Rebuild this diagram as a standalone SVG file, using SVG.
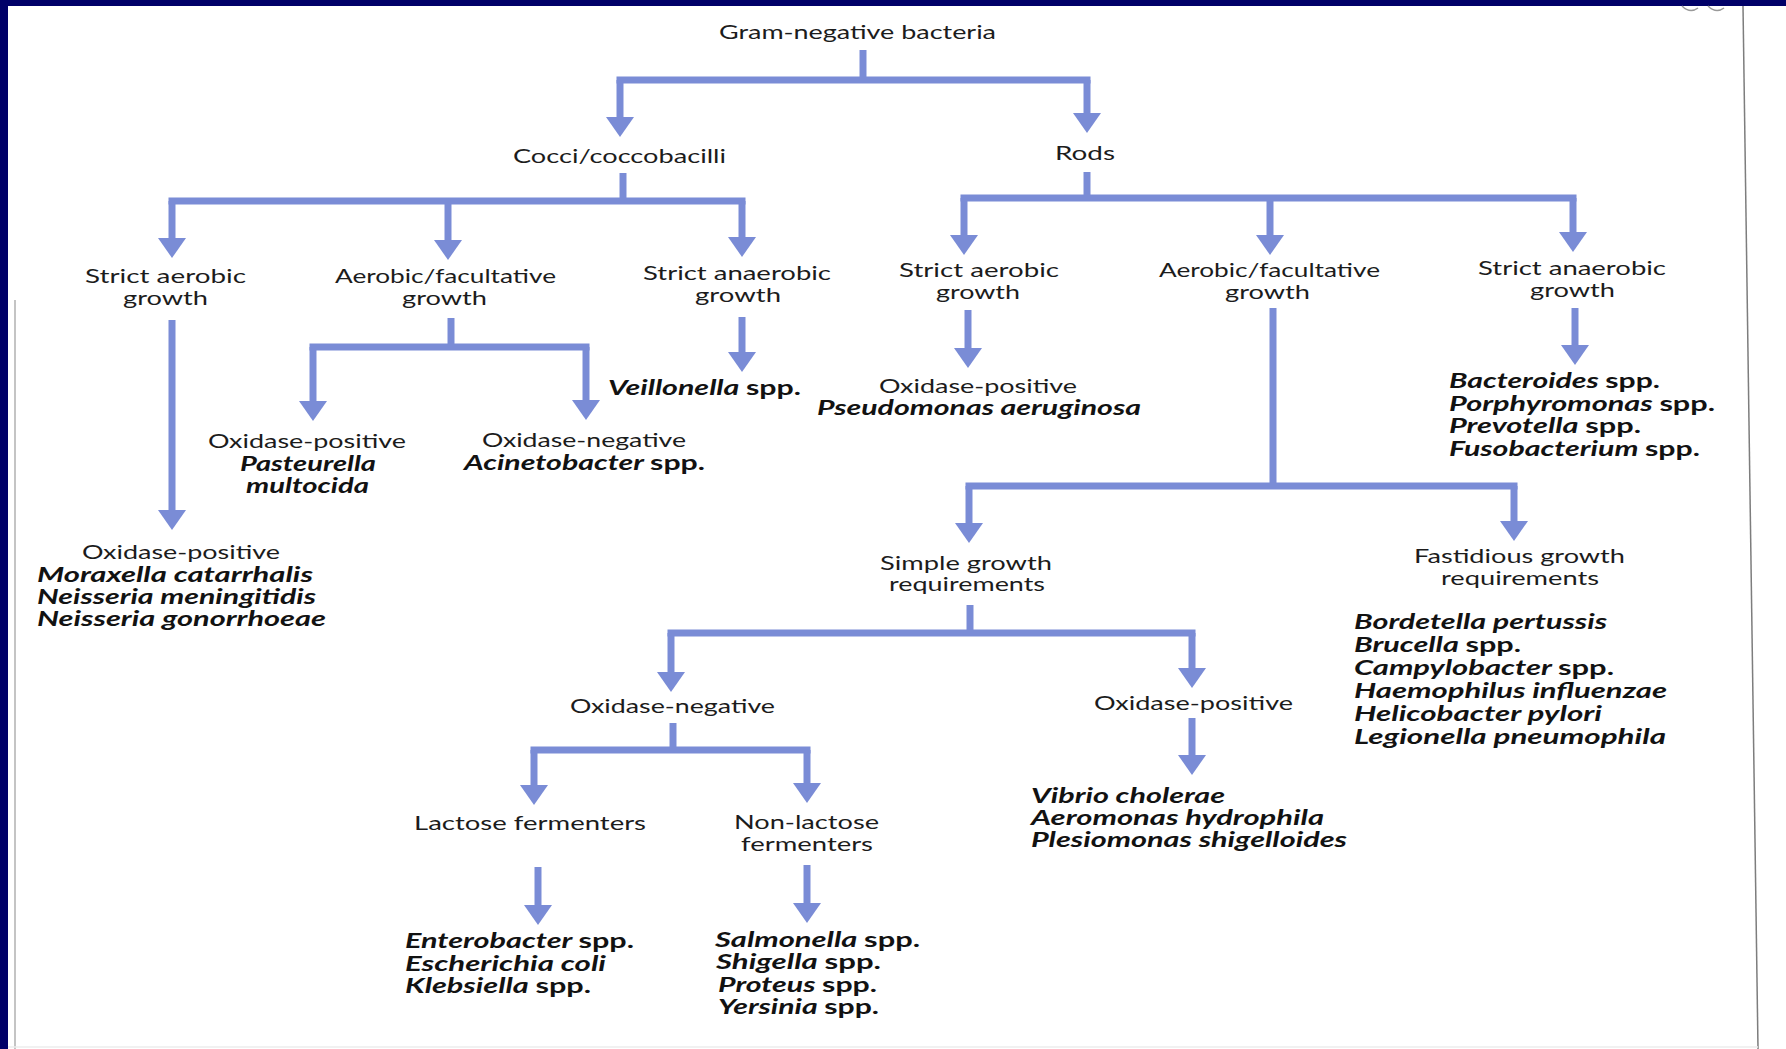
<svg xmlns="http://www.w3.org/2000/svg" width="1786" height="1049" viewBox="0 0 1786 1049">
<defs>
<style>
.t{font-family:Lato,"Open Sans","Liberation Sans",sans-serif;font-size:20px;fill:#1c1c1c;}
.s{font-family:Lato,"Open Sans","Liberation Sans",sans-serif;font-size:20px;font-weight:bold;font-style:italic;fill:#121212;}
.u{font-style:normal;}
.c{fill:none;stroke:#7a8cd6;stroke-width:7;}
.bar{stroke-linecap:square;}
.a{marker-end:url(#ah);}
</style>
<marker id="ah" viewBox="0 0 20 28" refX="0" refY="14" markerWidth="20" markerHeight="28" markerUnits="userSpaceOnUse" orient="auto">
<path d="M0,0 L20,14 L0,28 Z" fill="#7a8cd6"/>
</marker>
</defs>
<rect x="0" y="0" width="1786" height="1049" fill="#ffffff"/>
<rect x="0" y="0" width="1786" height="6" fill="#000068"/>
<rect x="0" y="0" width="8" height="1049" fill="#000068"/>
<path d="M1743,6 L1758,1049" stroke="#7d7d7d" stroke-width="1.5" fill="none"/>
<path d="M15,300 L15,1049" stroke="#b0b0b0" stroke-width="1.5" fill="none"/>
<path d="M8,1047 H1758" stroke="#ececec" stroke-width="1.5" fill="none"/>
<path d="M1682,6 Q1690,14 1698,8 M1708,6 Q1716,14 1724,8" stroke="#999" stroke-width="1.5" fill="none"/>

<g id="connectors">
<path class="c" d="M863,50 V80"/>
<path class="c bar" d="M620,80 H1087"/>
<path class="c a" d="M620,80 V117"/>
<path class="c a" d="M1087,80 V113"/>

<path class="c" d="M623,173 V201"/>
<path class="c bar" d="M172,201 H742"/>
<path class="c a" d="M172,201 V238"/>
<path class="c a" d="M448,201 V240"/>
<path class="c a" d="M742,201 V237"/>

<path class="c" d="M1087,172 V198"/>
<path class="c bar" d="M964,198 H1573"/>
<path class="c a" d="M964,198 V235"/>
<path class="c a" d="M1270,198 V235"/>
<path class="c a" d="M1573,198 V232"/>

<path class="c a" d="M172,320 V510"/>

<path class="c" d="M451,318 V347"/>
<path class="c bar" d="M313,347 H586"/>
<path class="c a" d="M313,347 V401"/>
<path class="c a" d="M586,347 V400"/>

<path class="c a" d="M742,317 V352"/>
<path class="c a" d="M968,310 V348"/>

<path class="c" d="M1273,308 V486"/>
<path class="c bar" d="M969,486 H1514"/>
<path class="c a" d="M969,486 V523"/>
<path class="c a" d="M1514,486 V521"/>

<path class="c a" d="M1575,308 V345"/>

<path class="c" d="M970,605 V633"/>
<path class="c bar" d="M671,633 H1192"/>
<path class="c a" d="M671,633 V672"/>
<path class="c a" d="M1192,633 V668"/>

<path class="c" d="M673,723 V750"/>
<path class="c bar" d="M534,750 H807"/>
<path class="c a" d="M534,750 V785"/>
<path class="c a" d="M807,750 V783"/>

<path class="c a" d="M1192,718 V755"/>
<path class="c a" d="M538,867 V905"/>
<path class="c a" d="M807,865 V903"/>
</g>

<g id="n-root"><text class="t" x="719" y="39" textLength="277" lengthAdjust="spacingAndGlyphs">Gram-negative bacteria</text></g>
<g id="n-cocci"><text class="t" x="513" y="163" textLength="213" lengthAdjust="spacingAndGlyphs">Cocci/coccobacilli</text></g>
<g id="n-rods"><text class="t" x="1055" y="160" textLength="60" lengthAdjust="spacingAndGlyphs">Rods</text></g>

<g id="n-c-strict-aerobic">
<text class="t" x="85" y="283" textLength="161" lengthAdjust="spacingAndGlyphs">Strict aerobic</text>
<text class="t" x="123" y="305" textLength="85" lengthAdjust="spacingAndGlyphs">growth</text>
</g>
<g id="n-c-aerobic-facultative">
<text class="t" x="335" y="283" textLength="221" lengthAdjust="spacingAndGlyphs">Aerobic/facultative</text>
<text class="t" x="402" y="305" textLength="85" lengthAdjust="spacingAndGlyphs">growth</text>
</g>
<g id="n-c-strict-anaerobic">
<text class="t" x="643" y="280" textLength="188" lengthAdjust="spacingAndGlyphs">Strict anaerobic</text>
<text class="t" x="695" y="302" textLength="86" lengthAdjust="spacingAndGlyphs">growth</text>
</g>
<g id="n-r-strict-aerobic">
<text class="t" x="899" y="277" textLength="160" lengthAdjust="spacingAndGlyphs">Strict aerobic</text>
<text class="t" x="936" y="299" textLength="84" lengthAdjust="spacingAndGlyphs">growth</text>
</g>
<g id="n-r-aerobic-facultative">
<text class="t" x="1159" y="277" textLength="221" lengthAdjust="spacingAndGlyphs">Aerobic/facultative</text>
<text class="t" x="1225" y="299" textLength="85" lengthAdjust="spacingAndGlyphs">growth</text>
</g>
<g id="n-r-strict-anaerobic">
<text class="t" x="1478" y="275" textLength="188" lengthAdjust="spacingAndGlyphs">Strict anaerobic</text>
<text class="t" x="1530" y="297" textLength="85" lengthAdjust="spacingAndGlyphs">growth</text>
</g>

<g id="n-c-oxpos-pasteurella">
<text class="t" x="208" y="448" textLength="198" lengthAdjust="spacingAndGlyphs">Oxidase-positive</text>
<text class="s" x="240" y="471" textLength="136" lengthAdjust="spacingAndGlyphs">Pasteurella</text>
<text class="s" x="246" y="493" textLength="123" lengthAdjust="spacingAndGlyphs">multocida</text>
</g>
<g id="n-c-oxneg-acinetobacter">
<text class="t" x="482" y="447" textLength="204" lengthAdjust="spacingAndGlyphs">Oxidase-negative</text>
<text class="s" x="464" y="470" textLength="241" lengthAdjust="spacingAndGlyphs">Acinetobacter <tspan class="u">spp.</tspan></text>
</g>
<g id="n-veillonella">
<text class="s" x="608" y="395" textLength="193" lengthAdjust="spacingAndGlyphs">Veillonella <tspan class="u">spp.</tspan></text>
</g>
<g id="n-c-oxpos-neisseria">
<text class="t" x="82" y="559" textLength="198" lengthAdjust="spacingAndGlyphs">Oxidase-positive</text>
<text class="s" x="37" y="582" textLength="276" lengthAdjust="spacingAndGlyphs">Moraxella catarrhalis</text>
<text class="s" x="37" y="604" textLength="279" lengthAdjust="spacingAndGlyphs">Neisseria meningitidis</text>
<text class="s" x="37" y="626" textLength="289" lengthAdjust="spacingAndGlyphs">Neisseria gonorrhoeae</text>
</g>
<g id="n-r-oxpos-pseudomonas">
<text class="t" x="879" y="393" textLength="198" lengthAdjust="spacingAndGlyphs">Oxidase-positive</text>
<text class="s" x="817" y="415" textLength="324" lengthAdjust="spacingAndGlyphs">Pseudomonas aeruginosa</text>
</g>
<g id="n-anaerobes">
<text class="s" x="1449" y="388" textLength="211" lengthAdjust="spacingAndGlyphs">Bacteroides <tspan class="u">spp.</tspan></text>
<text class="s" x="1449" y="411" textLength="266" lengthAdjust="spacingAndGlyphs">Porphyromonas <tspan class="u">spp.</tspan></text>
<text class="s" x="1449" y="433" textLength="192" lengthAdjust="spacingAndGlyphs">Prevotella <tspan class="u">spp.</tspan></text>
<text class="s" x="1449" y="456" textLength="251" lengthAdjust="spacingAndGlyphs">Fusobacterium <tspan class="u">spp.</tspan></text>
</g>
<g id="n-simple">
<text class="t" x="880" y="570" textLength="172" lengthAdjust="spacingAndGlyphs">Simple growth</text>
<text class="t" x="889" y="591" textLength="156" lengthAdjust="spacingAndGlyphs">requirements</text>
</g>
<g id="n-fastidious">
<text class="t" x="1414" y="563" textLength="211" lengthAdjust="spacingAndGlyphs">Fastidious growth</text>
<text class="t" x="1441" y="585" textLength="158" lengthAdjust="spacingAndGlyphs">requirements</text>
</g>
<g id="n-fastidious-species">
<text class="s" x="1354" y="629" textLength="253" lengthAdjust="spacingAndGlyphs">Bordetella pertussis</text>
<text class="s" x="1354" y="652" textLength="167" lengthAdjust="spacingAndGlyphs">Brucella <tspan class="u">spp.</tspan></text>
<text class="s" x="1354" y="675" textLength="260" lengthAdjust="spacingAndGlyphs">Campylobacter <tspan class="u">spp.</tspan></text>
<text class="s" x="1354" y="698" textLength="313" lengthAdjust="spacingAndGlyphs">Haemophilus influenzae</text>
<text class="s" x="1354" y="721" textLength="248" lengthAdjust="spacingAndGlyphs">Helicobacter pylori</text>
<text class="s" x="1354" y="744" textLength="312" lengthAdjust="spacingAndGlyphs">Legionella pneumophila</text>
</g>
<g id="n-s-oxneg">
<text class="t" x="570" y="713" textLength="205" lengthAdjust="spacingAndGlyphs">Oxidase-negative</text>
</g>
<g id="n-s-oxpos">
<text class="t" x="1094" y="710" textLength="199" lengthAdjust="spacingAndGlyphs">Oxidase-positive</text>
</g>
<g id="n-vibrio">
<text class="s" x="1031" y="803" textLength="194" lengthAdjust="spacingAndGlyphs">Vibrio cholerae</text>
<text class="s" x="1031" y="825" textLength="293" lengthAdjust="spacingAndGlyphs">Aeromonas hydrophila</text>
<text class="s" x="1031" y="847" textLength="316" lengthAdjust="spacingAndGlyphs">Plesiomonas shigelloides</text>
</g>
<g id="n-lactose">
<text class="t" x="414" y="830" textLength="232" lengthAdjust="spacingAndGlyphs">Lactose fermenters</text>
</g>
<g id="n-nonlactose">
<text class="t" x="734" y="829" textLength="145" lengthAdjust="spacingAndGlyphs">Non-lactose</text>
<text class="t" x="741" y="851" textLength="132" lengthAdjust="spacingAndGlyphs">fermenters</text>
</g>
<g id="n-lactose-species">
<text class="s" x="405" y="948" textLength="229" lengthAdjust="spacingAndGlyphs">Enterobacter <tspan class="u">spp.</tspan></text>
<text class="s" x="405" y="971" textLength="201" lengthAdjust="spacingAndGlyphs">Escherichia coli</text>
<text class="s" x="405" y="993" textLength="186" lengthAdjust="spacingAndGlyphs">Klebsiella <tspan class="u">spp.</tspan></text>
</g>
<g id="n-nonlactose-species">
<text class="s" x="715" y="947" textLength="205" lengthAdjust="spacingAndGlyphs">Salmonella <tspan class="u">spp.</tspan></text>
<text class="s" x="716" y="969" textLength="165" lengthAdjust="spacingAndGlyphs">Shigella <tspan class="u">spp.</tspan></text>
<text class="s" x="718" y="992" textLength="159" lengthAdjust="spacingAndGlyphs">Proteus <tspan class="u">spp.</tspan></text>
<text class="s" x="718" y="1014" textLength="161" lengthAdjust="spacingAndGlyphs">Yersinia <tspan class="u">spp.</tspan></text>
</g>
</svg>
